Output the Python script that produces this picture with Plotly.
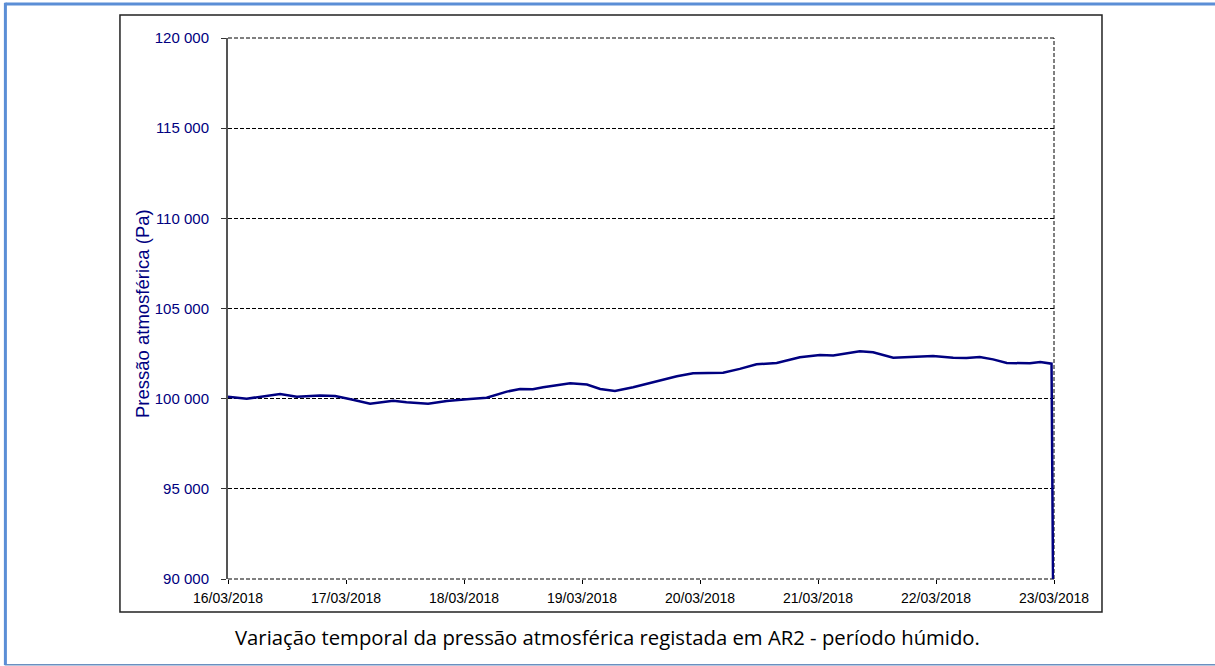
import datetime as dt
import plotly.graph_objects as go

# ---- data ----
start = dt.datetime(2018, 3, 16, 0, 0)
hours = [0.0, 3.8, 10.6, 14.0, 18.7, 21.8, 25.4, 28.9, 33.6, 36.3, 40.7, 44.5,
         49.2, 52.6, 56.7, 59.4, 62.0, 64.1, 69.6, 73.0, 75.7, 78.7, 82.4, 85.8,
         91.3, 94.6, 100.7, 104.1, 107.5, 111.6, 116.3, 120.4, 123.1, 128.5,
         131.2, 135.3, 140.1, 143.4, 147.5, 150.2, 152.9, 155.6, 158.4, 163.1,
         165.2, 167.5, 167.8]
pressure = [100100, 100000, 100260, 100110, 100170, 100150, 99945, 99720, 99890,
            99800, 99720, 99870, 99980, 100055, 100390, 100540, 100520, 100630,
            100850, 100780, 100540, 100430, 100630, 100850, 101240, 101410, 101440,
            101650, 101910, 101980, 102300, 102420, 102400, 102630, 102570, 102270,
            102310, 102370, 102270, 102250, 102310, 102180, 101980, 101960, 102030,
            101940, 90000]
day_ticks = ["2018-03-16", "2018-03-17", "2018-03-18", "2018-03-19",
             "2018-03-20", "2018-03-21", "2018-03-22", "2018-03-23"]
day_labels = ["16/03/2018", "17/03/2018", "18/03/2018", "19/03/2018",
              "20/03/2018", "21/03/2018", "22/03/2018", "23/03/2018"]
y_ticks = [90000, 95000, 100000, 105000, 110000, 115000, 120000]

times = [start + dt.timedelta(hours=h) for h in hours]

NAVY = "#000080"
fig = go.Figure()
fig.add_trace(go.Scatter(x=times, y=pressure, mode="lines",
                         line=dict(color=NAVY, width=2.5), showlegend=False,
                         hoverinfo="skip"))

fig.update_layout(
    width=1215, height=666,
    margin=dict(l=228, r=161, t=38, b=87),
    paper_bgcolor="white", plot_bgcolor="white",
    separators=", ",
    font=dict(family="Liberation Sans, Arial, sans-serif", size=14, color="black"),
)
fig.update_xaxes(
    type="date",
    range=[day_ticks[0], day_ticks[-1]],
    tickvals=day_ticks, ticktext=day_labels,
    showgrid=False, zeroline=False, showline=False,
    ticks="outside", ticklen=4, tickcolor="black", tickwidth=1,
    ticklabelstandoff=2,
    tickfont=dict(size=14, color="black"),
)
fig.update_yaxes(
    range=[90000, 120000],
    tickvals=y_ticks, tickformat=",d",
    showgrid=True, gridcolor="black", gridwidth=1, griddash="4px,2px",
    zeroline=False, showline=True, linecolor="#555555", linewidth=2,
    ticks="outside", ticklen=5, tickcolor="#333333", tickwidth=1,
    ticklabelstandoff=9,
    tickfont=dict(size=15, color=NAVY),
)

# y-axis title
fig.add_annotation(text="Pressão atmosférica (Pa)", xref="paper", yref="paper",
                   x=-0.1041, y=0.4898, textangle=-90, showarrow=False,
                   xanchor="center", yanchor="middle",
                   font=dict(size=18.5, color=NAVY))

# plot area dashed borders (top, right, bottom)
for (x0, y0, x1, y1) in [(0, 1, 1, 1), (1, 0, 1, 1), (0, 0, 1, 0)]:
    fig.add_shape(type="line", xref="paper", yref="paper", x0=x0, y0=y0, x1=x1, y1=y1,
                  line=dict(color="black", width=1, dash="4px,2px"), layer="below")

# chart box
fig.add_shape(type="rect", xref="paper", yref="paper",
              x0=-0.1308, y0=-0.061, x1=1.0581, y1=1.0425,
              line=dict(color="#222222", width=1.5), layer="below")
# outer blue frame (right side lies beyond the page)
fig.add_shape(type="rect", xref="paper", yref="paper",
              x0=-0.2695, y0=-0.1585, x1=1.35, y1=1.0628,
              line=dict(color="#6A8FC0", width=1.5), layer="below")
fig.add_shape(type="line", xref="paper", yref="paper", x0=-0.2695, y0=1.0628, x1=1.35, y1=1.0628,
              line=dict(color="#5B8ED6", width=3))
fig.add_shape(type="line", xref="paper", yref="paper", x0=-0.2695, y0=1.065, x1=-0.2695, y1=-0.159,
              line=dict(color="#5B8ED6", width=3))

fig.add_annotation(text="Variação temporal da pressão atmosférica registada em AR2 - período húmido.",
                   xref="paper", yref="paper", x=0.46, y=-0.107, showarrow=False,
                   xanchor="center", yanchor="middle",
                   font=dict(family="Open Sans, Noto Sans, sans-serif", size=20.3, color="black"))

fig.write_html("out.html", config={"displayModeBar": False},
               post_script="document.body.style.margin='0px';document.body.style.overflow='hidden';")
